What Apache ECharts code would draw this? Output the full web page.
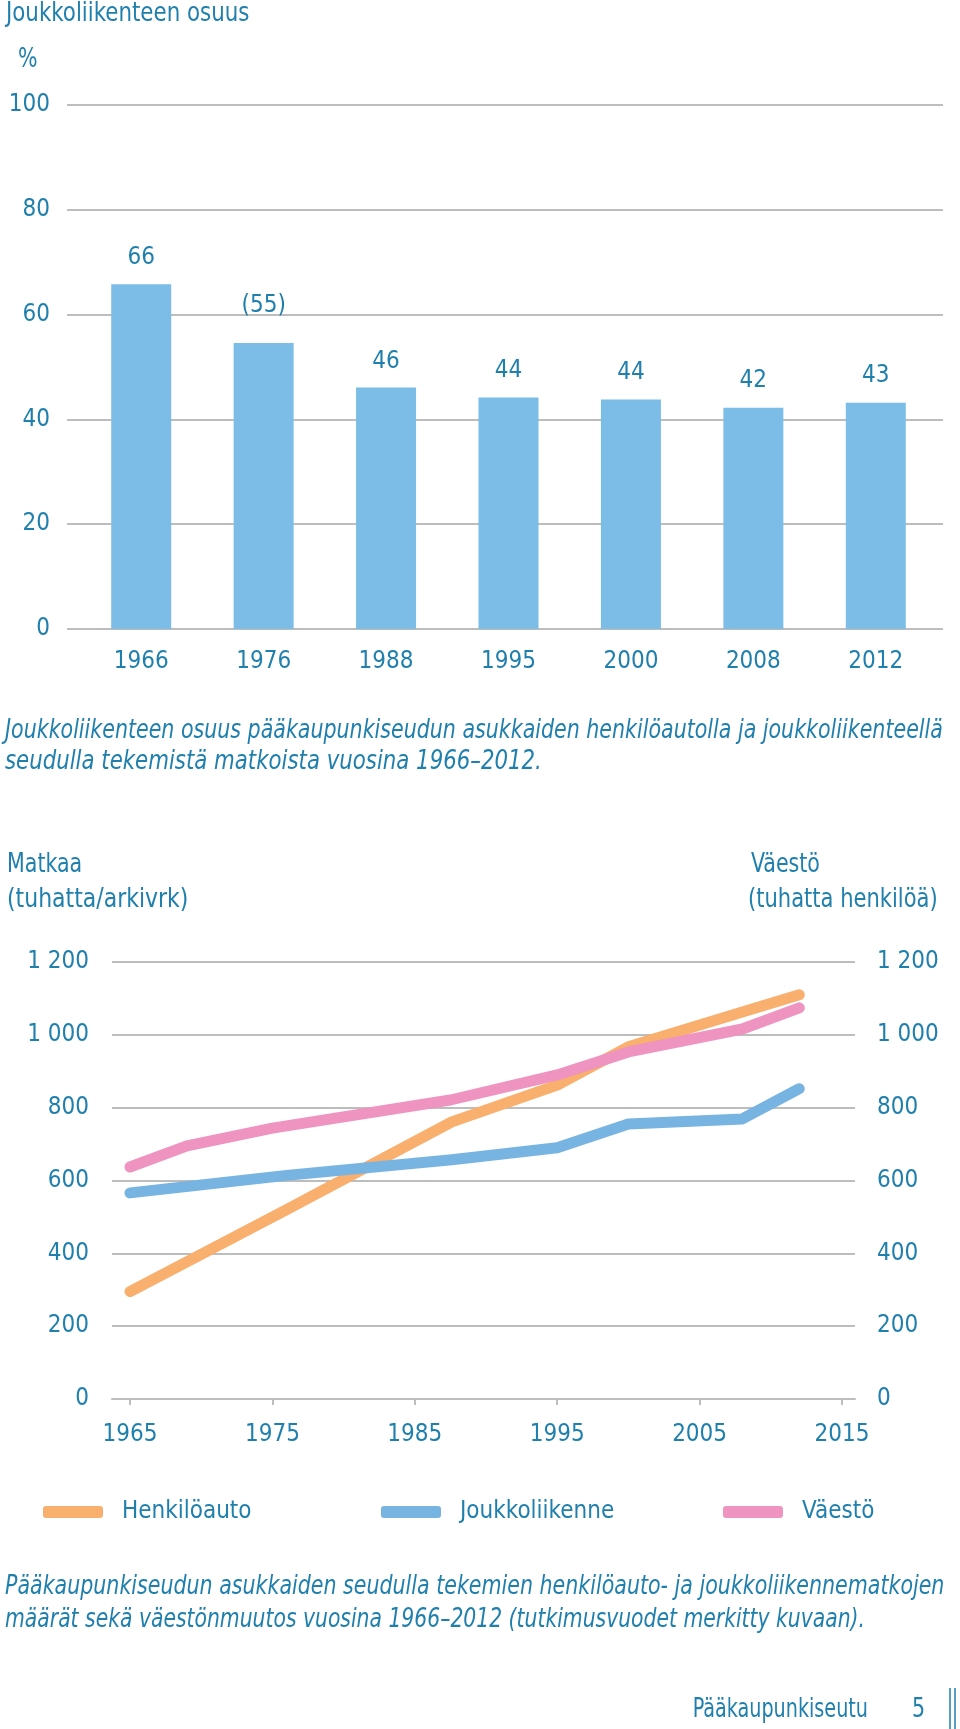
<!DOCTYPE html>
<html><head><meta charset="utf-8">
<script src="https://cdn.jsdelivr.net/npm/echarts@6/dist/echarts.min.js"></script>
<style>html,body{margin:0;padding:0;background:#fff}#c{width:960px;height:1729px}</style>
</head><body><div id="c"></div>
<script>
// ---- Top chart data ----
const shareYears = ['1966','1976','1988','1995','2000','2008','2012'];
const shareValues = [65.8, 54.6, 46.1, 44.2, 43.8, 42.2, 43.2];
const shareLabels = ['66','(55)','46','44','44','42','43'];

// ---- Bottom chart data ----
const surveyYears = ['1966','1976','1988','1995','2000','2008','2012'];
const surveyPos = [1965, 1976, 1987.6, 1995, 2000, 2008, 2012];
const carTrips = [295, 520, 761, 862, 967, 1063, 1110];
const transitTrips = [566, 614, 657, 690, 755, 769, 852];
const popPos = [1965, 1969, 1975, 1987.5, 1995, 2000, 2008, 2012];
const population = [637, 695, 744, 821, 890, 953, 1016, 1074];
const seriesNames = ['Henkilöauto', 'Joukkoliikenne', 'Väestö'];

// ---- Styles ----
const FONT = '"DejaVu Sans Condensed", "Liberation Sans Narrow", "Arial Narrow", sans-serif';
const TEAL = '#1f7fad';
const GRID = '#bdbdbd';
const BAR = '#7bbde6';
const COLORS = ['#f9af6d', '#78b4e1', '#ef93c0'];
const AX = 24;          // axis/label font size
const SX = 0.88;        // horizontal condensing for free text
const barLabelDist = [14, 25, 14, 15, 15, 15, 15];
const annOffsets = [[1,-35],[-24,-29],[-11,-27],[-11,-35],[-10,-40],[-14,-25],[-10,-38]];

function popAt(x){
  for (let i=0;i<popPos.length-1;i++){
    if (x>=popPos[i] && x<=popPos[i+1]){
      const t=(x-popPos[i])/(popPos[i+1]-popPos[i]);
      return population[i]+t*(population[i+1]-population[i]);
    }
  }
  return population[population.length-1];
}
const fmtK = v => v>=1000 ? Math.floor(v/1000)+' '+String(v%1000).padStart(3,'0') : String(v);

const chart = echarts.init(document.getElementById('c'), null, {renderer:'canvas'});
const txt = (text, x, y, size, extra, align, sx) => ({type:'text', x, y, scaleX:sx||SX, scaleY:1, style:Object.assign({
  text, fill:TEAL, fontSize:size, fontFamily:FONT, verticalAlign:'middle', align:align||'left'}, extra||{})});

const option = {
  animation:false,
  backgroundColor:'#fff',
  grid:[
    {left:67, right:17, top:105, height:524},
    {left:80, width:857, top:105, height:524},
    {left:112, right:105, top:962, height:437},
    {left:130, width:712, top:962, height:437}
  ],
  xAxis:[
    {gridIndex:0, type:'value', min:0, max:1, show:false},
    {gridIndex:1, type:'category', data:shareYears, axisLine:{show:false}, axisTick:{show:false},
      axisLabel:{fontSize:AX, color:TEAL, fontFamily:FONT, margin:21}},
    {gridIndex:2, type:'value', min:0, max:1, axisLine:{show:true, lineStyle:{color:GRID, width:2}},
      axisTick:{show:false}, axisLabel:{show:false}, splitLine:{show:false}},
    {gridIndex:3, type:'value', min:1965, max:2015, interval:10, axisLine:{show:false},
      axisTick:{show:true, length:6, lineStyle:{color:GRID, width:2}}, splitLine:{show:false},
      axisLabel:{fontSize:AX, color:TEAL, fontFamily:FONT, margin:24, showMaxLabel:true, showMinLabel:true,
        formatter:v=>String(v)}}
  ],
  yAxis:[
    {gridIndex:0, type:'value', min:0, max:100, interval:20, axisLine:{show:false}, axisTick:{show:false},
      axisLabel:{fontSize:AX, color:TEAL, fontFamily:FONT, margin:17},
      splitLine:{lineStyle:{color:GRID, width:2}}},
    {gridIndex:1, type:'value', min:0, max:100, show:false},
    {gridIndex:2, type:'value', min:0, max:1200, interval:200, axisLine:{show:false}, axisTick:{show:false},
      axisLabel:{fontSize:AX, color:TEAL, fontFamily:FONT, margin:23, formatter:fmtK},
      splitLine:{lineStyle:{color:GRID, width:2}}},
    {gridIndex:2, type:'value', position:'right', min:0, max:1200, interval:200, axisLine:{show:false}, axisTick:{show:false},
      axisLabel:{fontSize:AX, color:TEAL, fontFamily:FONT, margin:22, formatter:fmtK},
      splitLine:{show:false}},
    {gridIndex:3, type:'value', min:0, max:1200, show:false}
  ],
  legend: seriesNames.map((n,i)=>({
    data:[n], left:[38,376,718][i], top:1495, itemWidth:60, itemHeight:12, icon:'roundRect',
    selectedMode:false,
    textStyle:{fontSize:AX, color:TEAL, fontFamily:FONT, padding:[0,0,0,14]}
  })),
  series:[
    {type:'bar', xAxisIndex:1, yAxisIndex:1, barWidth:60,
      itemStyle:{color:BAR},
      data: shareValues.map((v,i)=>({value:v, label:{distance:barLabelDist[i]}})),
      label:{show:true, position:'top', fontSize:AX, color:TEAL, fontFamily:FONT,
        formatter:p=>shareLabels[p.dataIndex]}},
    {name:seriesNames[0], type:'line', xAxisIndex:3, yAxisIndex:4, showSymbol:false, symbol:'none',
      itemStyle:{color:COLORS[0]}, lineStyle:{color:COLORS[0], width:11, cap:'round', join:'round'},
      data: surveyPos.map((x,i)=>[x, carTrips[i]])},
    {name:seriesNames[2], type:'line', xAxisIndex:3, yAxisIndex:4, showSymbol:false, symbol:'none',
      itemStyle:{color:COLORS[2]}, lineStyle:{color:COLORS[2], width:11, cap:'round', join:'round'},
      data: popPos.map((x,i)=>[x, population[i]])},
    {name:seriesNames[1], type:'line', xAxisIndex:3, yAxisIndex:4, showSymbol:false, symbol:'none',
      itemStyle:{color:COLORS[1]}, lineStyle:{color:COLORS[1], width:11, cap:'round', join:'round'},
      data: surveyPos.map((x,i)=>[x, transitTrips[i]])},
    {type:'scatter', xAxisIndex:3, yAxisIndex:4, symbolSize:1, itemStyle:{opacity:0}, silent:true,
      data: surveyPos.map((x,i)=>({value:[x, Math.max(carTrips[i], popAt(x))],
        label:{offset:annOffsets[i]}})),
      label:{show:true, position:'inside', fontSize:AX, color:TEAL, fontFamily:FONT,
        formatter:p=>surveyYears[p.dataIndex]}}
  ],
  graphic:[
    txt('Joukkoliikenteen osuus', 6, 14, 27),
    txt('%', 18, 60, 26),
    txt('Joukkoliikenteen osuus pääkaupunkiseudun asukkaiden henkilöautolla ja joukkoliikenteellä', 5, 731, 26, {fontStyle:'italic'}),
    txt('seudulla tekemistä matkoista vuosina 1966–2012.', 5, 762, 26, {fontStyle:'italic'}, 'left', 0.91),
    txt('Matkaa', 7, 865, 26),
    txt('(tuhatta/arkivrk)', 7, 900, 26, null, 'left', 0.94),
    txt('Väestö', 751, 865, 26),
    txt('(tuhatta henkilöä)', 748, 900, 26, null, 'left', 0.9),
    txt('Pääkaupunkiseudun asukkaiden seudulla tekemien henkilöauto- ja joukkoliikennematkojen', 5, 1587, 26, {fontStyle:'italic'}),
    txt('määrät sekä väestönmuutos vuosina 1966–2012 (tutkimusvuodet merkitty kuvaan).', 5, 1620, 26, {fontStyle:'italic'}, 'left', 0.87),
    txt('Pääkaupunkiseutu', 868, 1710, 26, null, 'right', 0.82),
    txt('5', 912, 1710, 26),
    {type:'line', shape:{x1:950, y1:1688, x2:950, y2:1729}, style:{stroke:TEAL, lineWidth:1.5}},
    {type:'line', shape:{x1:955, y1:1688, x2:955, y2:1729}, style:{stroke:TEAL, lineWidth:1.5}}
  ]
};
chart.setOption(option);
</script>
</body></html>
